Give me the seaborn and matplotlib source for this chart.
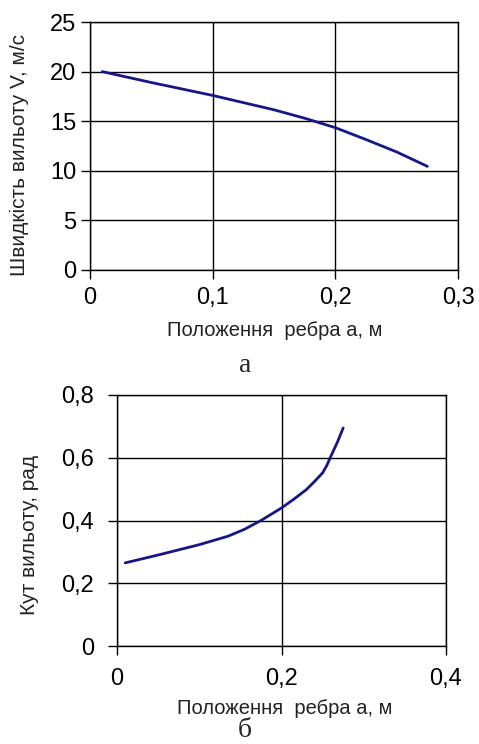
import numpy as np
import pandas as pd
import matplotlib
matplotlib.use("Agg")
import matplotlib.pyplot as plt
import seaborn as sns

# top chart: exit velocity vs rib position
pos_a = [0.01, 0.05, 0.10, 0.15, 0.175, 0.20, 0.225, 0.25, 0.275]
speed_v = [20.0, 18.9, 17.6, 16.15, 15.3, 14.35, 13.15, 11.9, 10.45]

# bottom chart: exit angle vs rib position
pos_b = [0.01, 0.05, 0.10, 0.135, 0.155, 0.175, 0.20, 0.215, 0.23, 0.24,
         0.25, 0.255, 0.26, 0.268, 0.275]
angle_b = [0.265, 0.29, 0.323, 0.35, 0.372, 0.40, 0.44, 0.468, 0.498, 0.524,
           0.552, 0.575, 0.605, 0.65, 0.695]

xticks_a = [0, 0.1, 0.2, 0.3]
yticks_a = [0, 5, 10, 15, 20, 25]
xticks_b = [0, 0.2, 0.4]
yticks_b = [0, 0.2, 0.4, 0.6, 0.8]

xlabel = "Положення  ребра а, м"
ylabel_a = "Швидкість вильоту V, м/с"
ylabel_b = "Кут вильоту, рад"

sns.set_style("white")
plt.rcParams['font.family'] = ['Liberation Sans', 'DejaVu Sans']

LINE = '#16168a'


def comma(v):
    s = ('%g' % v).replace('.', ',')
    return s


def style_axes(ax, xt, yt, xpad, ypad):
    ax.set_xlim(xt[0], xt[-1])
    ax.set_ylim(yt[0], yt[-1])
    ax.set_xticks(xt)
    ax.set_yticks(yt)
    ax.set_xticklabels([comma(v) for v in xt])
    ax.set_yticklabels([comma(v) for v in yt])
    ax.grid(True, color='black', lw=1)
    for s in ax.spines.values():
        s.set_visible(True)
        s.set_color('black')
        s.set_linewidth(1)
    ax.tick_params(axis='both', direction='out', length=6.5, width=1,
                   color='black', labelsize=17, labelcolor='black')
    ax.tick_params(axis='x', pad=xpad)
    ax.tick_params(axis='y', pad=ypad)
    ax.tick_params(top=False, right=False, bottom=True, left=True)


fig = plt.figure(figsize=(4.79, 7.44), dpi=100)

ax1 = fig.add_axes([0.1879, 0.6371, 0.7683, 0.3333])
df_a = pd.DataFrame({'a': pos_a, 'v': speed_v})
sns.lineplot(data=df_a, x='a', y='v', ax=ax1, color=LINE, lw=2)
style_axes(ax1, xticks_a, yticks_a, 6, 3.5)
ax1.set_xlabel(xlabel, fontsize=14.5, color='#222222', va='center')
ax1.set_ylabel(ylabel_a, fontsize=15, color='#222222', va='center')
ax1.xaxis.set_label_coords(0.503, -0.242)
ax1.yaxis.set_label_coords(-0.193, 0.464)

ax2 = fig.add_axes([0.2443, 0.1317, 0.6868, 0.3374])
df_b = pd.DataFrame({'a': pos_b, 'angle': angle_b})
sns.lineplot(data=df_b, x='a', y='angle', ax=ax2, color=LINE, lw=2)
style_axes(ax2, xticks_b, yticks_b, 9, 10)
ax2.set_xlabel(xlabel, fontsize=14.5, color='#222222', va='center')
ax2.set_ylabel(ylabel_b, fontsize=15, color='#222222', va='center')
ax2.xaxis.set_label_coords(0.51, -0.247)
ax2.yaxis.set_label_coords(-0.267, 0.444)

fig.text(245 / 479, 1 - 372 / 744, "а", family=['Liberation Serif', 'DejaVu Serif'],
         fontsize=20, ha='center', va='baseline')
fig.text(245 / 479, 0.002, "б", family=['Liberation Serif', 'DejaVu Serif'],
         fontsize=20, ha='center', va='bottom')

fig.savefig("out.png", dpi=100)
